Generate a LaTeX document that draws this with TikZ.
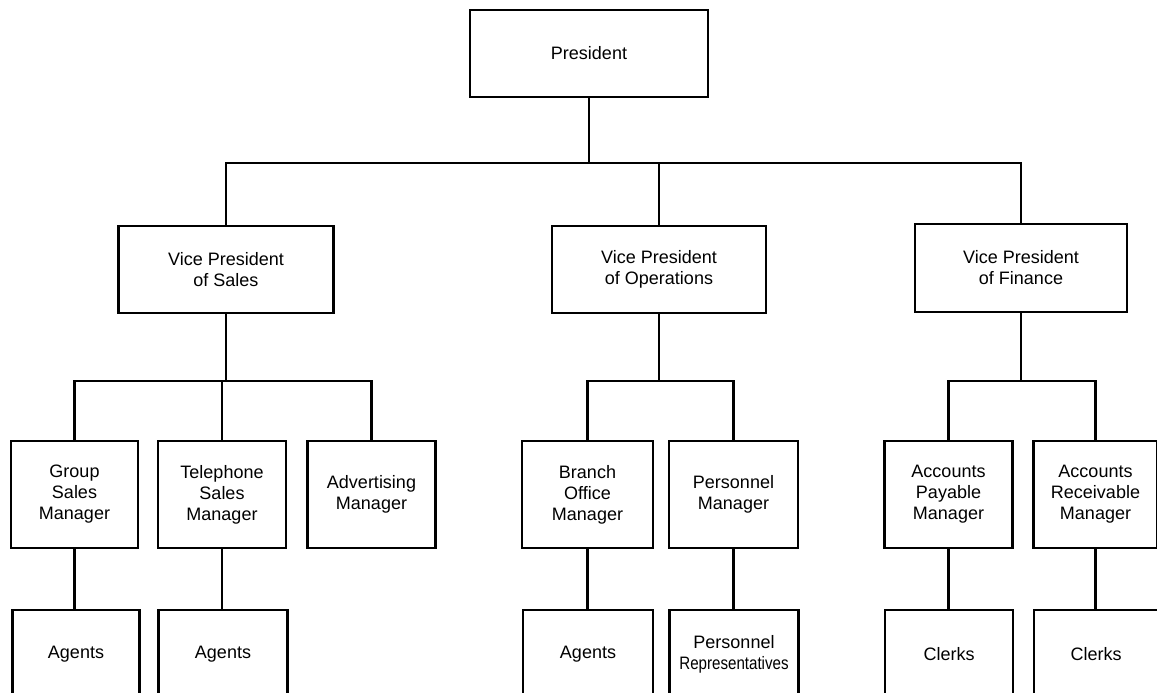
\documentclass[tikz,border=0pt]{standalone}
\usepackage{fontspec}
\setmainfont{Liberation Sans}
\begin{document}
\begin{tikzpicture}[x=1pt,y=-1pt,
  box/.style={draw, line width=2.2pt, align=center, inner sep=0pt,
              font=\fontsize{18}{21}\selectfont},
  link/.style={line width=2.2pt}]
  \useasboundingbox (0,0) rectangle (1157,693);
  \clip (0,0) rectangle (1157,693);
  \fill[white] (0,0) rectangle (1157,693);

  % top level
  \node[box, minimum width=238pt, minimum height=87pt] (pres) at (589,53.5) {President};

  % vice presidents
  \node[box, minimum width=215pt, minimum height=87pt] (vps) at (226,269.5) {Vice President\\of Sales};
  \node[box, minimum width=214pt, minimum height=87pt] (vpo) at (659,269.5) {Vice President\\of Operations};
  \node[box, minimum width=212pt, minimum height=88pt] (vpf) at (1021,268) {Vice President\\of Finance};

  % managers
  \node[box, minimum width=127pt, minimum height=107pt] (gsm) at (74.5,494.5) {Group\\Sales\\Manager};
  \node[box, minimum width=128pt, minimum height=107pt] (tsm) at (222,494.5) {Telephone\\Sales\\Manager};
  \node[box, minimum width=128pt, minimum height=107pt] (adv) at (371.5,494.5) {Advertising\\Manager};
  \node[box, minimum width=131pt, minimum height=107pt] (bom) at (587.5,494.5) {Branch\\Office\\Manager};
  \node[box, minimum width=129pt, minimum height=107pt] (pm)  at (733.5,494.5) {Personnel\\Manager};
  \node[box, minimum width=128pt, minimum height=107pt] (apm) at (948.5,494.5) {Accounts\\Payable\\Manager};
  \node[box, minimum width=124pt, minimum height=107pt] (arm) at (1095.5,494.5) {Accounts\\Receivable\\Manager};

  % staff
  \node[box, minimum width=127pt, minimum height=88pt] (ag1) at (76,654) {Agents};
  \node[box, minimum width=129pt, minimum height=88pt] (ag2) at (223,654) {Agents};
  \node[box, minimum width=130pt, minimum height=88pt] (ag3) at (588,654) {Agents};
  \node[box, minimum width=129pt, minimum height=88pt] (prp) at (734,654) {Personnel\\\scalebox{0.84}[1]{Representatives}};
  \node[box, minimum width=128pt, minimum height=88pt] (cl1) at (949,654) {Clerks};
  \node[box, minimum width=124pt, minimum height=88pt] (cl2) at (1096,654) {Clerks};

  % horizontal bus lines
  \coordinate (bar1) at (0,163);
  \coordinate (bar2) at (0,381);

  % president to vice presidents
  \draw[link] (pres.south) -- (pres.south |- bar1);
  \draw[link] (vps.north) |- (vpf.north |- bar1) -- (vpf.north);
  \draw[link] (vpo.north) -- (vpo.north |- bar1);

  % sales
  \draw[link] (vps.south) -- (vps.south |- bar2);
  \draw[link] (gsm.north) |- (adv.north |- bar2) -- (adv.north);
  \draw[link] (tsm.north) -- (tsm.north |- bar2);
  \draw[link] (gsm.south) -- (gsm.south |- ag1.north);
  \draw[link] (tsm.south) -- (tsm.south |- ag2.north);

  % operations
  \draw[link] (vpo.south) -- (vpo.south |- bar2);
  \draw[link] (bom.north) |- (pm.north |- bar2) -- (pm.north);
  \draw[link] (bom.south) -- (bom.south |- ag3.north);
  \draw[link] (pm.south) -- (pm.south |- prp.north);

  % finance
  \draw[link] (vpf.south) -- (vpf.south |- bar2);
  \draw[link] (apm.north) |- (arm.north |- bar2) -- (arm.north);
  \draw[link] (apm.south) -- (apm.south |- cl1.north);
  \draw[link] (arm.south) -- (arm.south |- cl2.north);
\end{tikzpicture}
\end{document}
